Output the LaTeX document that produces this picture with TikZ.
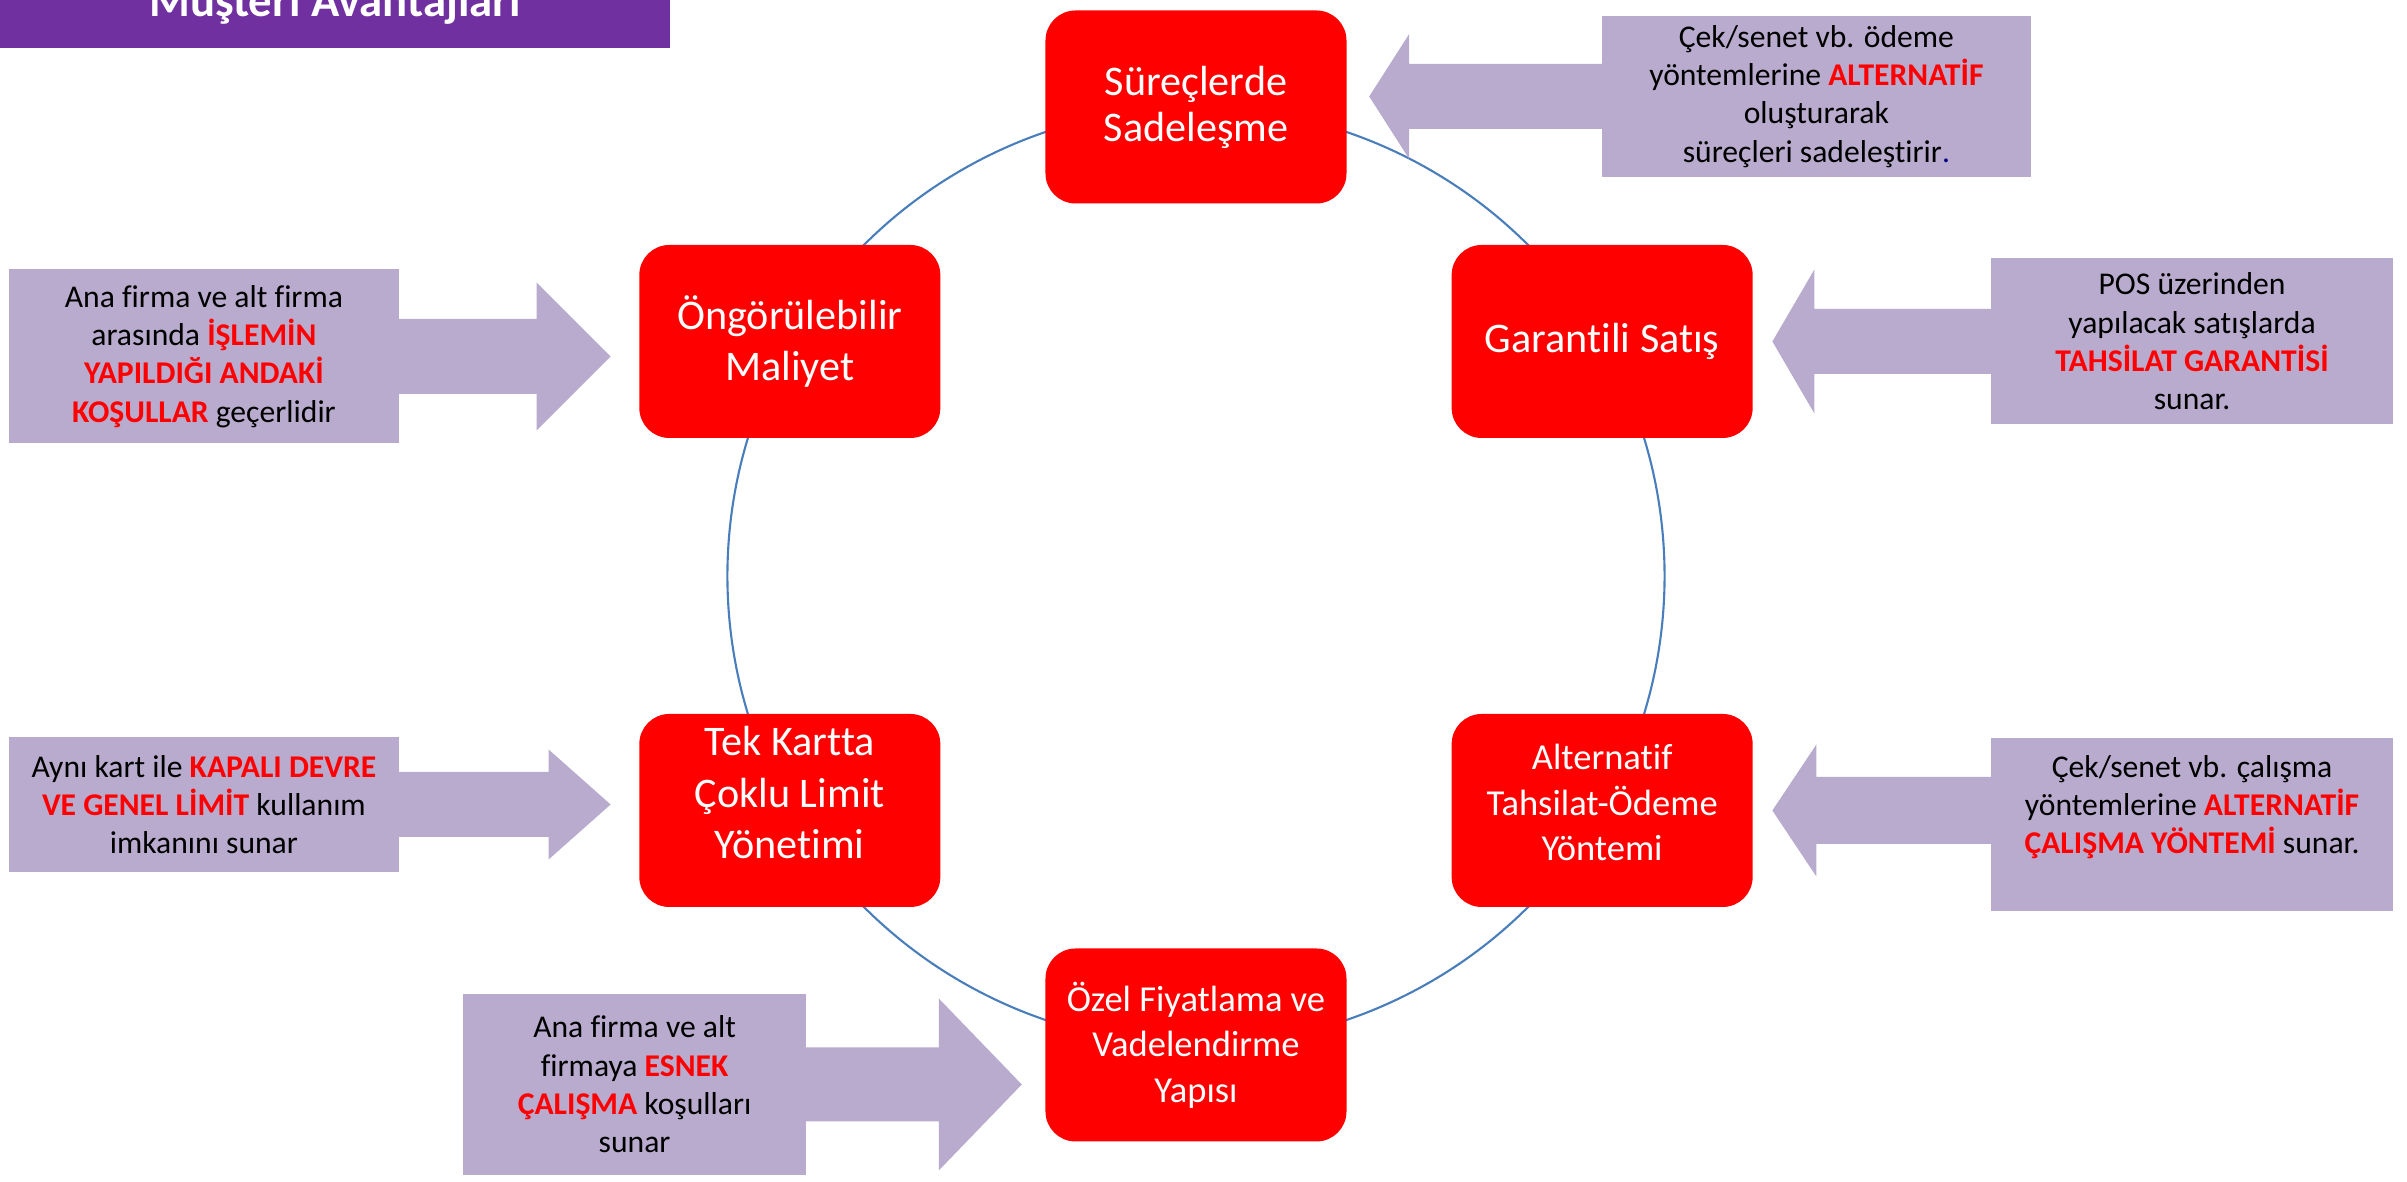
\documentclass[tikz,border=0pt]{standalone}
\usepackage{fontspec}
\setmainfont{Carlito}[Ligatures={NoCommon}]
\usetikzlibrary{positioning, backgrounds}

\definecolor{ringred}{RGB}{255,0,0}
\definecolor{lilac}{RGB}{185,171,205}
\definecolor{grape}{RGB}{112,48,160}
\definecolor{ringblue}{RGB}{74,126,187}

\newcommand{\vurgu}[1]{{\bfseries\color{red}#1}}

\tikzset{
  phase/.style={rectangle, rounded corners=0.3cm, fill=ringred, text=white, minimum width=3.01cm, minimum height=1.93cm, align=center, inner sep=0pt},
  note/.style={rectangle, fill=lilac, text=black, align=center, inner sep=0pt, font=\fontsize{9}{10.9}\selectfont},
  pointer/.style={fill=lilac},
  ring/.style={draw=ringblue, line width=0.6pt, looseness=0.91},
  headline/.style={rectangle, fill=grape, text=white, font=\bfseries\fontsize{13.3}{16}\selectfont, minimum width=6.70cm, minimum height=0.85cm, inner sep=0pt, text height=0.33cm, text depth=0.10cm}
}

\begin{document}
\begin{tikzpicture}
\useasboundingbox (-11.96,-6.06) rectangle (12.11,5.76);

% baslik
\node[headline]	(baslik)	at (-8.61,5.705)	{Müşteri Avantajları};

% halka uzerindeki adimlar
\node[phase, font=\fontsize{12}{13.1}\selectfont]					(sade)		at (90:4.69)	{Süreçlerde\\Sadeleşme};
\node[phase, font=\fontsize{12}{14.6}\selectfont]					(garanti)	at (30:4.69)	{Garantili Satış};
\node[phase, font=\fontsize{10.4}{12.95}\selectfont, text depth=0.16cm]	(odeme)		at (-30:4.69)	{Alternatif\\Tahsilat-Ödeme\\Yöntemi};
\node[phase, font=\fontsize{10.4}{12.95}\selectfont]				(fiyat)		at (-90:4.69)	{Özel Fiyatlama ve\\Vadelendirme\\Yapısı};
\node[phase, font=\fontsize{12}{14.7}\selectfont, text depth=0.36cm]	(limit)		at (-150:4.69)	{Tek Kartta\\Çoklu Limit\\Yönetimi};
\node[phase, font=\fontsize{12}{14.6}\selectfont]					(maliyet)	at (150:4.69)	{Öngörülebilir\\Maliyet};

% halka
\begin{scope}[on background layer]
\draw[ring]	(sade.center)		to[bend left=30]	(garanti.center);
\draw[ring]	(garanti.center)	to[bend left=30]	(odeme.center);
\draw[ring]	(odeme.center)		to[bend left=30]	(fiyat.center);
\draw[ring]	(fiyat.center)		to[bend left=30]	(limit.center);
\draw[ring]	(limit.center)		to[bend left=30]	(maliyet.center);
\draw[ring]	(maliyet.center)	to[bend left=30]	(sade.center);
\end{scope}

% aciklama kutulari
\node[note, minimum width=4.29cm, minimum height=1.61cm]	(notA) [right=2.54cm of sade, yshift=0.105cm]
	{Çek/senet vb. ödeme\\yöntemlerine \vurgu{ALTERNATİF}\\oluşturarak\\süreçleri sadeleştirir{\color{blue!50!black}.}};
\node[note, minimum width=4.02cm, minimum height=1.66cm]	(notC) [right=2.37cm of garanti]
	{POS üzerinden\\yapılacak satışlarda\\\vurgu{TAHSİLAT GARANTİSİ}\\sunar.};
\node[note, minimum width=4.02cm, minimum height=1.73cm, text depth=0.41cm]	(notE) [right=2.37cm of odeme, yshift=-0.145cm]
	{Çek/senet vb. çalışma\\yöntemlerine \vurgu{ALTERNATİF}\\\vurgu{ÇALIŞMA YÖNTEMİ} sunar.};
\node[note, minimum width=3.90cm, minimum height=1.74cm]	(notB) [left=2.39cm of maliyet, yshift=-0.15cm]
	{Ana firma ve alt firma\\arasında \vurgu{İŞLEMİN}\\\vurgu{YAPILDIĞI ANDAKİ}\\\vurgu{KOŞULLAR} geçerlidir};
\node[note, minimum width=3.90cm, minimum height=1.35cm]	(notD) [left=2.39cm of limit, yshift=0.06cm]
	{Aynı kart ile \vurgu{KAPALI DEVRE}\\\vurgu{VE GENEL LİMİT} kullanım\\imkanını sunar};
\node[note, minimum width=3.43cm, minimum height=1.81cm]	(notF) [left=2.38cm of fiyat, yshift=-0.395cm]
	{Ana firma ve alt\\firmaya \vurgu{ESNEK}\\\vurgu{ÇALIŞMA} koşulları\\sunar};

% oklar
\fill[pointer]	([xshift=1mm]notA.west) ++(0,0.325) -- ++(-2.02,0) -- ++(0,0.30) -- ++(-0.40,-0.625) -- ++(0.40,-0.625) -- ++(0,0.30) -- ++(2.02,0) -- cycle;
\fill[pointer]	([xshift=1mm]notC.west) ++(0,0.325) -- ++(-1.86,0) -- ++(0,0.395) -- ++(-0.42,-0.72) -- ++(0.42,-0.72) -- ++(0,0.395) -- ++(1.86,0) -- cycle;
\fill[pointer]	([xshift=1mm,yshift=0.145cm]notE.west) ++(0,0.335) -- ++(-1.84,0) -- ++(0,0.325) -- ++(-0.44,-0.66) -- ++(0.44,-0.66) -- ++(0,0.325) -- ++(1.84,0) -- cycle;
\fill[pointer]	([xshift=-1mm]notB.east) ++(0,0.375) -- ++(1.47,0) -- ++(0,0.365) -- ++(0.74,-0.74) -- ++(-0.74,-0.74) -- ++(0,0.365) -- ++(-1.47,0) -- cycle;
\fill[pointer]	([xshift=-1mm]notD.east) ++(0,0.325) -- ++(1.59,0) -- ++(0,0.225) -- ++(0.62,-0.55) -- ++(-0.62,-0.55) -- ++(0,0.225) -- ++(-1.59,0) -- cycle;
\fill[pointer]	([xshift=-1mm]notF.east) ++(0,0.37) -- ++(1.42,0) -- ++(0,0.49) -- ++(0.83,-0.86) -- ++(-0.83,-0.86) -- ++(0,0.49) -- ++(-1.42,0) -- cycle;

\end{tikzpicture}
\end{document}
